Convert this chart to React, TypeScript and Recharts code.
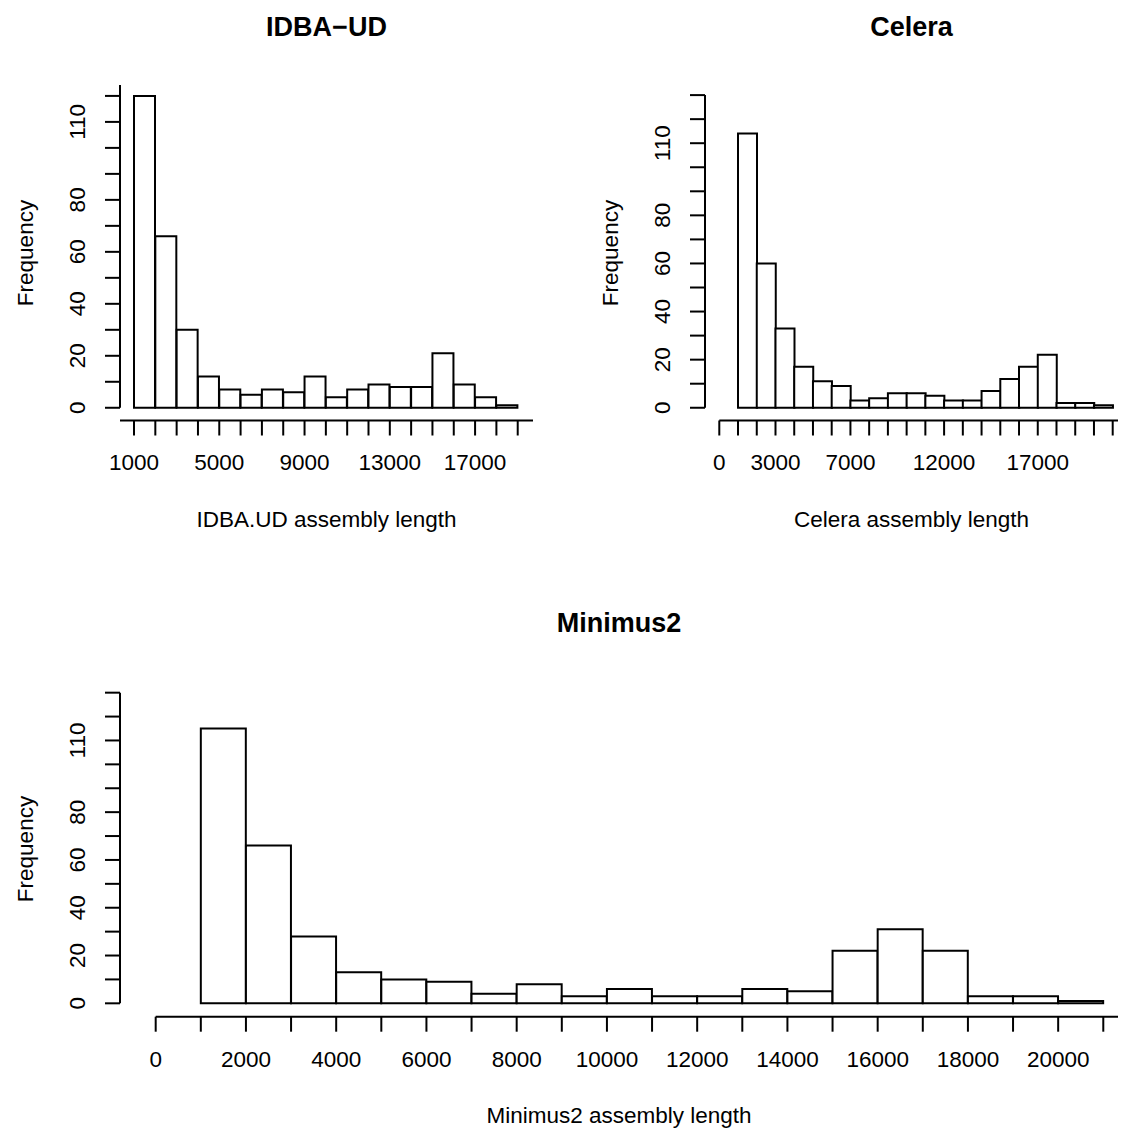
import React from "react";
import { BarChart, Bar, XAxis, YAxis, ReferenceLine } from "recharts";

const FONT = '"Liberation Sans", Arial, Helvetica, sans-serif';

// bin starts (width 1000) and frequencies
const idbaStarts = [1000, 2000, 3000, 4000, 5000, 6000, 7000, 8000, 9000, 10000, 11000, 12000, 13000, 14000, 15000, 16000, 17000, 18000];
const idbaCounts = [120, 66, 30, 12, 7, 5, 7, 6, 12, 4, 7, 9, 8, 8, 21, 9, 4, 1];

const celeraStarts = [1000, 2000, 3000, 4000, 5000, 6000, 7000, 8000, 9000, 10000, 11000, 12000, 13000, 14000, 15000, 16000, 17000, 18000, 19000, 20000];
const celeraCounts = [114, 60, 33, 17, 11, 9, 3, 4, 6, 6, 5, 3, 3, 7, 12, 17, 22, 2, 2, 1];

const minimusStarts = [1000, 2000, 3000, 4000, 5000, 6000, 7000, 8000, 9000, 10000, 11000, 12000, 13000, 14000, 15000, 16000, 17000, 18000, 19000, 20000];
const minimusCounts = [115, 66, 28, 13, 10, 9, 4, 8, 3, 6, 3, 3, 6, 5, 22, 31, 22, 3, 3, 1];

// axis ticks and which of them carry a label
const idbaXTicks = [1000, 2000, 3000, 4000, 5000, 6000, 7000, 8000, 9000, 10000, 11000, 12000, 13000, 14000, 15000, 16000, 17000, 18000, 19000];
const idbaXLabels = [1000, 5000, 9000, 13000, 17000];
const wideXTicks = [0, 1000, 2000, 3000, 4000, 5000, 6000, 7000, 8000, 9000, 10000, 11000, 12000, 13000, 14000, 15000, 16000, 17000, 18000, 19000, 20000, 21000];
const celeraXLabels = [0, 3000, 7000, 12000, 17000];
const minimusXLabels = [0, 2000, 4000, 6000, 8000, 10000, 12000, 14000, 16000, 18000, 20000];
const yTicks120 = [0, 10, 20, 30, 40, 50, 60, 70, 80, 90, 100, 110, 120];
const yTicks130 = [0, 10, 20, 30, 40, 50, 60, 70, 80, 90, 100, 110, 120, 130];
const yLabels = [0, 20, 40, 60, 80, 110];

const toBins = (starts: number[], counts: number[]) =>
  starts.map((s, i) => ({ mid: s + 500, count: counts[i] }));

const LW = 2;
const FS = 22.5;

function Txt({ x, y, children, size = FS, bold = false, rotate = false }: any) {
  return (
    <div
      style={{
        position: "absolute",
        left: x,
        top: y,
        transform: `translate(-50%,-50%)${rotate ? " rotate(-90deg)" : ""}`,
        fontFamily: FONT,
        fontSize: size,
        fontWeight: bold ? 700 : 400,
        lineHeight: 1,
        whiteSpace: "nowrap",
        color: "#000",
      }}
    >
      {children}
    </div>
  );
}

function Hist({ left, top, width, height, margin, data, xDomain, yDomain, xTicks, xLabels, yTicks, xLineFrom, yLineTo }: any) {
  const xTick = (p: any) => (
    <text x={p.x} y={p.y} dy="0.71em" textAnchor="middle" fontFamily={FONT} fontSize={FS} fill="#000">
      {xLabels.includes(p.payload.value) ? String(p.payload.value) : ""}
    </text>
  );
  const yTick = (p: any) => (
    <text transform={`translate(${p.x},${p.y}) rotate(-90)`} textAnchor="middle" fontFamily={FONT} fontSize={FS} fill="#000">
      {yLabels.includes(p.payload.value) ? String(p.payload.value) : ""}
    </text>
  );
  return (
    <div style={{ position: "absolute", left, top }}>
      <BarChart width={width} height={height} data={data} margin={margin} barCategoryGap={0} barGap={0}>
        <XAxis
          type="number"
          dataKey="mid"
          domain={xDomain}
          allowDataOverflow
          ticks={xTicks}
          interval={0}
          height={80}
          axisLine={false}
          tickLine={{ stroke: "#000", strokeWidth: LW }}
          tickSize={15}
          tickMargin={19}
          tick={xTick}
        />
        <YAxis
          type="number"
          domain={yDomain}
          allowDataOverflow
          ticks={yTicks}
          interval={0}
          width={120}
          axisLine={false}
          tickLine={{ stroke: "#000", strokeWidth: LW }}
          tickSize={15}
          tickMargin={20}
          tick={yTick}
        />
        <ReferenceLine
          segment={[{ x: xLineFrom, y: yDomain[0] }, { x: xDomain[1], y: yDomain[0] }]}
          stroke="#000"
          strokeWidth={LW}
          ifOverflow="visible"
        />
        <ReferenceLine
          segment={[{ x: xDomain[0], y: 0 }, { x: xDomain[0], y: yLineTo }]}
          stroke="#000"
          strokeWidth={LW}
          ifOverflow="visible"
        />
        <Bar dataKey="count" fill="#fff" stroke="#000" strokeWidth={LW} isAnimationActive={false} />
      </BarChart>
    </div>
  );
}

export default function App() {
  return (
    <div style={{ position: "absolute", left: 0, top: 0, width: 1121, height: 1128, background: "#fff", overflow: "hidden" }}>
      <Hist
        left={0}
        top={0}
        width={560}
        height={560}
        margin={{ top: 85, right: 27, left: 0, bottom: 59.5 }}
        data={toBins(idbaStarts, idbaCounts)}
        xDomain={[343, 19717]}
        yDomain={[-4.9, 124.2]}
        xTicks={idbaXTicks}
        xLabels={idbaXLabels}
        yTicks={yTicks120}
        xLineFrom={343}
        yLineTo={124.2}
      />
      <Hist
        left={585}
        top={0}
        width={536}
        height={560}
        margin={{ top: 85, right: 3, left: 0, bottom: 59.5 }}
        data={toBins(celeraStarts, celeraCounts)}
        xDomain={[-763, 21283]}
        yDomain={[-5.3, 134.2]}
        xTicks={wideXTicks}
        xLabels={celeraXLabels}
        yTicks={yTicks130}
        xLineFrom={0}
        yLineTo={130}
      />
      <Hist
        left={0}
        top={596}
        width={1121}
        height={532}
        margin={{ top: 85.2, right: 3, left: 0, bottom: 31.3 }}
        data={toBins(minimusStarts, minimusCounts)}
        xDomain={[-791, 21326]}
        yDomain={[-5.6, 134.8]}
        xTicks={wideXTicks}
        xLabels={minimusXLabels}
        yTicks={yTicks130}
        xLineFrom={0}
        yLineTo={130}
      />

      <Txt x={326.5} y={27} size={27} bold>IDBA−UD</Txt>
      <Txt x={911.5} y={27} size={27} bold>Celera</Txt>
      <Txt x={619} y={623} size={27} bold>Minimus2</Txt>

      <Txt x={326.5} y={520}>IDBA.UD assembly length</Txt>
      <Txt x={911.5} y={520}>Celera assembly length</Txt>
      <Txt x={619} y={1116}>Minimus2 assembly length</Txt>

      <Txt x={26} y={252.7} rotate>Frequency</Txt>
      <Txt x={611} y={252.7} rotate>Frequency</Txt>
      <Txt x={26} y={849} rotate>Frequency</Txt>
    </div>
  );
}
